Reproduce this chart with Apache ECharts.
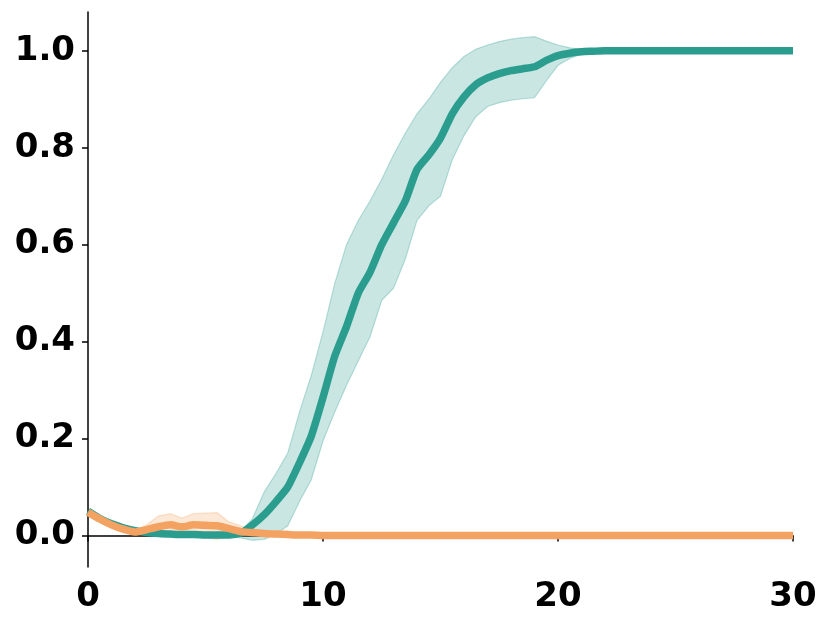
<!DOCTYPE html>
<html>
<head>
<meta charset="utf-8">
<script src="https://cdn.jsdelivr.net/npm/echarts@6/dist/echarts.min.js"></script>
<style>html,body{margin:0;padding:0;background:#fff;}#c{width:831px;height:627px;}</style>
</head>
<body>
<div id="c"></div>
<script>
var xs = [0,0.5,1,1.5,2,2.5,3,3.5,4,4.5,5,5.5,6,6.5,7,7.5,8,8.5,9,9.5,10,10.5,11,11.5,12,12.5,13,13.5,14,14.5,15,15.5,16,16.5,17,17.5,18,18.5,19,19.5,20,20.5,21,21.5,22,22.5,23,23.5,24,24.5,25,25.5,26,26.5,27,27.5,28,28.5,29,29.5,30];

var tealMean = [0.05,0.035,0.024,0.016,0.01,0.006,0.004,0.003,0.002,0.002,0.001,0.001,0.001,0.005,0.022,0.043,0.07,0.1,0.15,0.205,0.285,0.37,0.431,0.5,0.543,0.6,0.645,0.69,0.755,0.785,0.82,0.87,0.905,0.93,0.944,0.953,0.959,0.963,0.967,0.98,0.99,0.995,0.998,0.999,1,1,1,1,1,1,1,1,1,1,1,1,1,1,1,1,1];
var tealUpper = [0.052,0.037,0.026,0.018,0.012,0.008,0.006,0.005,0.004,0.004,0.003,0.003,0.003,0.008,0.035,0.09,0.128,0.17,0.255,0.33,0.42,0.52,0.6,0.65,0.69,0.735,0.785,0.83,0.87,0.9,0.935,0.965,0.988,1.003,1.012,1.019,1.024,1.027,1.029,1.02,1.012,1.006,1.003,1.001,1,1,1,1,1,1,1,1,1,1,1,1,1,1,1,1,1];
var tealLower = [0.048,0.033,0.022,0.014,0.008,0.004,0.002,0.001,0,0,-0.001,-0.001,-0.002,-0.005,-0.01,-0.008,0.003,0.02,0.07,0.115,0.195,0.255,0.31,0.36,0.41,0.485,0.51,0.57,0.65,0.68,0.7,0.775,0.825,0.864,0.885,0.893,0.898,0.901,0.903,0.938,0.97,0.984,0.993,0.996,0.999,1,1,1,1,1,1,1,1,1,1,1,1,1,1,1,1];

var orangeMean = [0.048,0.034,0.022,0.013,0.007,0.012,0.018,0.022,0.018,0.022,0.021,0.02,0.014,0.008,0.006,0.004,0.003,0.002,0.001,0.001,0,0,0,0,0,0,0,0,0,0,0,0,0,0,0,0,0,0,0,0,0,0,0,0,0,0,0,0,0,0,0,0,0,0,0,0,0,0,0,0,0];
var orangeUpper = [0.049,0.035,0.023,0.014,0.009,0.022,0.04,0.045,0.036,0.045,0.046,0.047,0.028,0.02,0.01,0.006,0.004,0.003,0.002,0.001,0,0,0,0,0,0,0,0,0,0,0,0,0,0,0,0,0,0,0,0,0,0,0,0,0,0,0,0,0,0,0,0,0,0,0,0,0,0,0,0,0];
var orangeLower = [0.047,0.033,0.021,0.012,0.006,0.005,0.005,0.005,0.003,0,-0.005,-0.008,-0.002,0,0.003,0.002,0.002,0.001,0,0,0,0,0,0,0,0,0,0,0,0,0,0,0,0,0,0,0,0,0,0,0,0,0,0,0,0,0,0,0,0,0,0,0,0,0,0,0,0,0,0,0];

var yTicks = [0,0.2,0.4,0.6,0.8,1.0];
var xTicks = [0,10,20,30];

var TEAL = '#2a9d8f', ORANGE = '#f4a261';

function pairs(arr){ return xs.map(function(x,i){ return [x, arr[i]]; }); }

function bandSeries(upper, lower, color){
  return {
    type:'custom', silent:true, z:1,
    data:[[0]],
    renderItem:function(params, api){
      var top = xs.map(function(x,i){ return api.coord([x, upper[i]]); });
      var bot = xs.map(function(x,i){ return api.coord([x, lower[i]]); }).reverse();
      return {
        type:'polygon',
        shape:{points: top.concat(bot), smooth:0},
        style:{fill:color, opacity:1, stroke:color, lineWidth:1.2,
               fillOpacity:0.25, strokeOpacity:0.3}
      };
    }
  };
}

var chart = echarts.init(document.getElementById('c'), null, {renderer:'canvas'});
var labelFont = {fontFamily:'DejaVu Sans', fontWeight:'bold', fontSize:34, color:'#000'};
chart.setOption({
  animation:false,
  backgroundColor:'#fff',
  grid:{left:88, right:38, top:12, bottom:60, containLabel:false},
  xAxis:{
    type:'value', min:0, max:30, interval:10,
    axisLine:{show:true, lineStyle:{color:'#000', width:1.5}},
    axisTick:{show:true, length:6, lineStyle:{color:'#000', width:1.5}},
    axisLabel:Object.assign({margin:13}, labelFont),
    splitLine:{show:false}
  },
  yAxis:{
    type:'value', min:-0.065, max:1.08,
    axisLine:{show:true, onZero:false, lineStyle:{color:'#000', width:1.5}},
    axisTick:{show:true, length:6, customValues:yTicks, lineStyle:{color:'#000', width:1.5}},
    axisLabel:Object.assign({margin:13, customValues:yTicks, formatter:function(v){return v.toFixed(1);}}, labelFont),
    splitLine:{show:false}
  },
  series:[
    bandSeries(tealUpper, tealLower, TEAL),
    bandSeries(orangeUpper, orangeLower, ORANGE),
    {type:'line', z:2, data:pairs(tealMean), symbol:'none', smooth:0.2, lineStyle:{color:TEAL, width:7.5}},
    {type:'line', z:2, data:pairs(orangeMean), symbol:'none', smooth:0.2, lineStyle:{color:ORANGE, width:7.5}}
  ]
});
</script>
</body>
</html>
